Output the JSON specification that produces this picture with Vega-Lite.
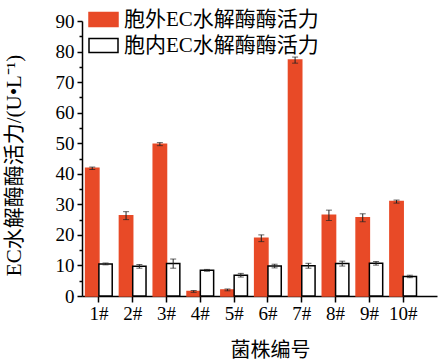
{
  "$schema": "https://vega.github.io/schema/vega-lite/v6.json",
  "width": 355,
  "height": 275,
  "autosize": {"type": "none"},
  "padding": {"left": 82, "top": 21, "right": 1, "bottom": 68},
  "background": "white",
  "config": {
    "font": "Liberation Serif, Noto Sans CJK SC",
    "view": {"stroke": null},
    "axis": {"grid": false, "domainColor": "black", "tickColor": "black", "labelColor": "black", "titleColor": "black", "domainWidth": 1.5, "tickWidth": 1.5, "titleFontWeight": "normal"},
    "legend": {"orient": "none", "legendX": 6, "legendY": -17, "symbolType": "M-1,-0.48H1V0.48H-1Z", "symbolSize": 841, "symbolStrokeWidth": 1.5, "symbolOpacity": 1, "labelFontSize": 21, "labelLimit": 0, "labelColor": "black", "rowPadding": -3, "labelOffset": 5, "title": null}
  },
  "data": {
    "values": [
      {"strain": "1#", "type": "胞外EC水解酶酶活力", "value": 41.8, "err": 0.4},
      {"strain": "1#", "type": "胞内EC水解酶酶活力", "value": 10.5, "err": 0.3},
      {"strain": "2#", "type": "胞外EC水解酶酶活力", "value": 26.3, "err": 1.3},
      {"strain": "2#", "type": "胞内EC水解酶酶活力", "value": 9.7, "err": 0.6},
      {"strain": "3#", "type": "胞外EC水解酶酶活力", "value": 49.7, "err": 0.5},
      {"strain": "3#", "type": "胞内EC水解酶酶活力", "value": 10.6, "err": 1.5},
      {"strain": "4#", "type": "胞外EC水解酶酶活力", "value": 1.5, "err": 0.3},
      {"strain": "4#", "type": "胞内EC水解酶酶活力", "value": 8.4, "err": 0.3},
      {"strain": "5#", "type": "胞外EC水解酶酶活力", "value": 2.0, "err": 0.3},
      {"strain": "5#", "type": "胞内EC水解酶酶活力", "value": 6.8, "err": 0.6},
      {"strain": "6#", "type": "胞外EC水解酶酶活力", "value": 18.9, "err": 1.1},
      {"strain": "6#", "type": "胞内EC水解酶酶活力", "value": 9.8, "err": 0.6},
      {"strain": "7#", "type": "胞外EC水解酶酶活力", "value": 77.2, "err": 1.0},
      {"strain": "7#", "type": "胞内EC水解酶酶活力", "value": 9.9, "err": 0.8},
      {"strain": "8#", "type": "胞外EC水解酶酶活力", "value": 26.4, "err": 1.7},
      {"strain": "8#", "type": "胞内EC水解酶酶活力", "value": 10.6, "err": 0.8},
      {"strain": "9#", "type": "胞外EC水解酶酶活力", "value": 25.6, "err": 1.3},
      {"strain": "9#", "type": "胞内EC水解酶酶活力", "value": 10.7, "err": 0.6},
      {"strain": "10#", "type": "胞外EC水解酶酶活力", "value": 30.9, "err": 0.5},
      {"strain": "10#", "type": "胞内EC水解酶酶活力", "value": 6.4, "err": 0.4}
    ]
  },
  "encoding": {
    "x": {
      "field": "strain", "type": "nominal",
      "sort": ["1#", "2#", "3#", "4#", "5#", "6#", "7#", "8#", "9#", "10#"],
      "scale": {"paddingInner": 0, "paddingOuter": 0.25, "align": 0},
      "axis": {"labelAngle": 0, "labelFontSize": 19, "tickSize": 6, "labelPadding": 2, "title": "菌株编号", "titleFontSize": 20, "titlePadding": 17, "titleX": 188}
    },
    "xOffset": {
      "field": "type", "type": "nominal",
      "sort": ["胞外EC水解酶酶活力", "胞内EC水解酶酶活力"],
      "scale": {"paddingInner": 0, "paddingOuter": 0.27}
    }
  },
  "layer": [
    {
      "mark": {"type": "bar", "strokeWidth": 1.5},
      "encoding": {
        "y": {
          "field": "value", "type": "quantitative",
          "scale": {"domain": [0, 90], "nice": false},
          "axis": {"values": [0, 10, 20, 30, 40, 50, 60, 70, 80, 90], "labelFontSize": 19, "tickSize": 5, "labelPadding": 3, "title": "EC水解酶酶活力/(U•L⁻¹)", "titleFontSize": 21, "titleX": -58, "titleY": 144}
        },
        "fill": {
          "field": "type", "type": "nominal",
          "sort": ["胞外EC水解酶酶活力", "胞内EC水解酶酶活力"],
          "scale": {"range": ["#E84A27", "white"]},
          "legend": {"encode": {"symbols": {"update": {"stroke": {"scale": "stroke", "field": "value"}, "fill": {"scale": "fill", "field": "value"}}}}}
        },
        "stroke": {
          "field": "type", "type": "nominal",
          "sort": ["胞外EC水解酶酶活力", "胞内EC水解酶酶活力"],
          "scale": {"range": ["#E84A27", "black"]},
          "legend": null
        }
      }
    },
    {
      "mark": {"type": "errorbar", "ticks": {"size": 6, "color": "#222222"}, "color": "#222222", "thickness": 1},
      "encoding": {
        "y": {
          "field": "value", "type": "quantitative",
          "axis": {"values": [5, 15, 25, 35, 45, 55, 65, 75, 85], "labels": false, "domain": false, "tickSize": 3, "title": null, "orient": "left"}
        },
        "yError": {"field": "err"}
      }
    }
  ],
  "resolve": {"axis": {"y": "independent"}}
}
